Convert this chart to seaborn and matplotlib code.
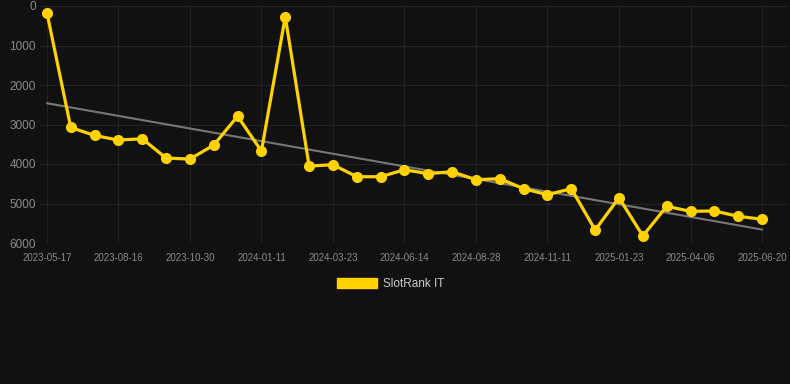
import numpy as np
import matplotlib
matplotlib.use("Agg")
import matplotlib.pyplot as plt
from matplotlib.patches import Patch
import seaborn as sns

# rank history, one value per snapshot (lower is better, axis inverted)
ranks = [168, 3075, 3277, 3395, 3361, 3850, 3875, 3521, 2789, 3673, 270,
         4052, 4018, 4322, 4322, 4145, 4246, 4195, 4398, 4372, 4625, 4777,
         4625, 5670, 4853, 5821, 5072, 5198, 5190, 5324, 5400]
tick_labels = ["2023-05-17", "2023-08-16", "2023-10-30", "2024-01-11",
               "2024-03-23", "2024-06-14", "2024-08-28", "2024-11-11",
               "2025-01-23", "2025-04-06", "2025-06-20"]
y_ticks = [0, 1000, 2000, 3000, 4000, 5000, 6000]
series_name = "SlotRank IT"

BG = "#111111"
GRID = "#232323"
YELLOW = "#FFD200"
TREND = "#777777"
TICK_COLOR = "#8a8a8a"

sns.set_style("dark")
plt.rcParams["font.family"] = ["Liberation Sans", "DejaVu Sans"]

idx = np.arange(len(ranks))

fig = plt.figure(figsize=(7.9, 3.84), dpi=100)
fig.patch.set_facecolor(BG)
ax = fig.add_axes([40 / 790, 1 - 243 / 384, 748 / 790, 237 / 384])
ax.set_facecolor(BG)

sns.regplot(x=idx, y=ranks, scatter=False, ci=None, ax=ax,
            line_kws={"color": TREND, "linewidth": 1.5, "zorder": 2})
sns.lineplot(x=idx, y=ranks, ax=ax, color=YELLOW, linewidth=2.3,
             marker="o", markersize=8, markeredgewidth=0, zorder=3)
for ln in ax.lines:
    ln.set_clip_on(False)

ax.set_xlim(-0.29, 31.09)
ax.set_ylim(6000, 0)
ax.set_xticks(idx[::3])
ax.set_xticklabels(tick_labels)
ax.set_yticks(y_ticks)
ax.set_yticklabels([str(v) for v in y_ticks])
ax.set_xlabel("")
ax.set_ylabel("")

ax.grid(True, color=GRID, linewidth=0.8)
ax.tick_params(axis="x", colors=GRID, labelcolor=TICK_COLOR, labelsize=7,
               length=5, width=0.8, pad=2)
ax.tick_params(axis="y", labelcolor=TICK_COLOR, labelsize=8.5, length=0, pad=3)
for s in ax.spines.values():
    s.set_visible(False)

handle = Patch(facecolor=YELLOW, edgecolor=YELLOW, label=series_name)
leg = fig.legend(handles=[handle], loc="center", bbox_to_anchor=(0.494, 1 - 284 / 384),
                 frameon=False, fontsize=8.5, handlelength=3.4, handleheight=1.0,
                 handletextpad=0.5, labelcolor="#cccccc")

fig.savefig("out.png", dpi=100, facecolor=BG)
